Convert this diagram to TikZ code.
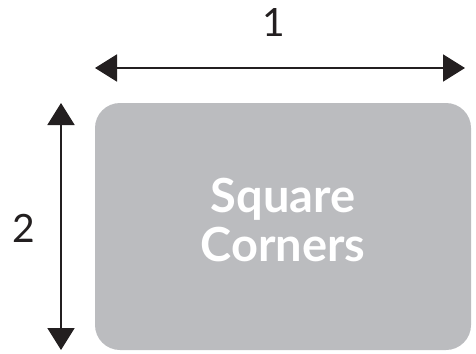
\documentclass[tikz,border=0pt]{standalone}
\usepackage{fontspec}
\setmainfont{Lato}
\usetikzlibrary{arrows.meta}
\definecolor{cardgray}{HTML}{BBBCBF}
\definecolor{inkblack}{HTML}{231F20}
\begin{document}
\begin{tikzpicture}[x=1pt,y=-1pt]
              \useasboundingbox (0,0) rectangle (476,353);
              % Tarjeta
              \node[fill=cardgray, rounded corners=25pt, minimum width=376pt, minimum height=247pt, inner sep=0pt] (card) at (283,226.5) {};
              \node[text=white, font=\fontsize{47}{49}\selectfont\bfseries, align=center] (title) at (283,220) {Square\\Corners};

              % Cotas
              \coordinate (wl) at (95,68);
              \coordinate (wr) at (465,68);
              \coordinate (ht) at (61,103);
              \coordinate (hb) at (61,350);
              \draw[inkblack, line width=2pt, {Triangle[length=22pt,width=27pt]}-{Triangle[length=22pt,width=27pt]}] (wl) -- (wr);
              \draw[inkblack, line width=2pt, {Triangle[length=22pt,width=27pt]}-{Triangle[length=22pt,width=27pt]}] (ht) -- (hb);

              % Etiquetas
              \node[text=inkblack, font=\fontsize{39}{44}\selectfont] (wlabel) at (274,22) {1};
              \node[text=inkblack, font=\fontsize{39}{44}\selectfont] (hlabel) at (24,228) {2};
            \end{tikzpicture}
\end{document}
